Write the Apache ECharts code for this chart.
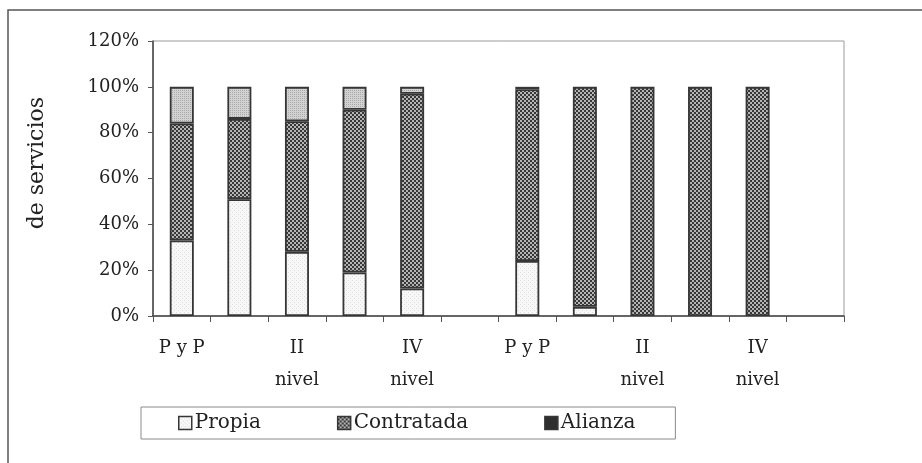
<!DOCTYPE html>
<html>
<head>
<meta charset="utf-8">
<script src="https://cdn.jsdelivr.net/npm/echarts@6/dist/echarts.min.js"></script>
<style>
  html, body { margin: 0; padding: 0; background: #fff; }
  #chart { width: 922px; height: 463px; }
</style>
</head>
<body>
<div id="chart"></div>
<script>
// categorías (dos grupos, con un hueco entre ellos)
const categories = ['P y P', 'I\nnivel', 'II\nnivel', 'III\nnivel', 'IV\nnivel', '',
                    'P y P', 'I\nnivel', 'II\nnivel', 'III\nnivel', 'IV\nnivel', ''];
// porcentajes
const propia     = [33, 51, 28, 19, 12, null, 24, 4, null, null, null, null];
const contratada = [51, 35, 57, 71, 85, null, 75, 96, 100, 100, 100, null];
const alianza    = [null, null, null, null, null, null, 1, null, null, null, null, null];
const otra       = [16, 14, 15, 10, 3, null, null, null, null, null, null, null];
const yTicks = [0, 20, 40, 60, 80, 100, 120];

// tramas tipo Excel en blanco y negro
function makePattern(size, base, dots) {
  const c = document.createElement('canvas');
  c.width = size; c.height = size;
  const ctx = c.getContext('2d');
  ctx.fillStyle = base;
  ctx.fillRect(0, 0, size, size);
  dots.forEach(d => {
    ctx.fillStyle = d[4];
    ctx.fillRect(d[0], d[1], d[2], d[3]);
  });
  return c;
}
const patPropia = makePattern(4, '#f7f7f7', [[0, 0, 1, 1, '#dedede'], [2, 2, 1, 1, '#dedede']]);
const patContratada = makePattern(4, '#383838', [[0, 0, 2, 2, '#b5b5b5'], [2, 2, 2, 2, '#b5b5b5']]);
const patOtra = makePattern(2, '#d2d2d2', [[0, 0, 1, 1, '#a9a9a9']]);

const border = '#363636';
const serif = 'DejaVu Serif';

function barSeries(name, data, fill) {
  return {
    name: name,
    type: 'bar',
    stack: 'total',
    barWidth: 24,
    data: data,
    itemStyle: {
      color: fill,
      borderColor: border,
      borderWidth: 1.8
    }
  };
}

const chart = echarts.init(document.getElementById('chart'));
chart.setOption({
  animation: false,
  backgroundColor: '#fff',
  grid: {
    left: 153,
    right: 78,
    top: 41,
    bottom: 147,
    show: true,
    borderColor: '#9a9a9a',
    borderWidth: 1
  },
  legend: {
    data: ['Propia', 'Contratada', 'Alianza'],
    icon: 'rect',
    left: 141,
    top: 407,
    orient: 'horizontal',
    itemWidth: 13,
    itemHeight: 13,
    itemGap: 76,
    padding: [6, 40, 6, 37],
    borderColor: '#8a8a8a',
    borderWidth: 1,
    textStyle: { fontFamily: serif, fontSize: 20, color: '#222', padding: [0, 0, 0, -2] },
    itemStyle: { borderColor: border, borderWidth: 1.5 }
  },
  xAxis: {
    type: 'category',
    data: categories,
    axisLine: { lineStyle: { color: '#444', width: 1.5 } },
    axisTick: { show: true, interval: 0, length: 6, lineStyle: { color: '#555' } },
    axisLabel: {
      interval: 1,
      margin: 16,
      fontFamily: serif,
      fontSize: 18,
      lineHeight: 32,
      color: '#222'
    }
  },
  yAxis: {
    type: 'value',
    min: 0,
    max: 120,
    interval: 20,
    axisLine: { show: true, lineStyle: { color: '#444', width: 1.5 } },
    axisTick: { show: true, length: 5, lineStyle: { color: '#555' } },
    splitLine: { show: false },
    axisLabel: {
      margin: 14,
      fontFamily: serif,
      fontSize: 18,
      color: '#222',
      formatter: function (v) { return yTicks.indexOf(v) >= 0 ? v + '%' : ''; }
    }
  },
  graphic: [
    {
      type: 'text',
      left: 26,
      top: 97,
      rotation: Math.PI / 2,
      style: {
        text: 'de servicios',
        fontFamily: serif,
        fontSize: 22,
        fill: '#222'
      }
    },
    {
      type: 'polyline',
      shape: { points: [[8, 463], [8, 10], [922, 10]] },
      style: { stroke: '#555', lineWidth: 1.5, fill: null }
    }
  ],
  series: [
    barSeries('Propia', propia, { image: patPropia, repeat: 'repeat' }),
    barSeries('Contratada', contratada, { image: patContratada, repeat: 'repeat' }),
    barSeries('Alianza', alianza, '#2e2e2e'),
    barSeries('Otra', otra, { image: patOtra, repeat: 'repeat' })
  ]
});
</script>
</body>
</html>
